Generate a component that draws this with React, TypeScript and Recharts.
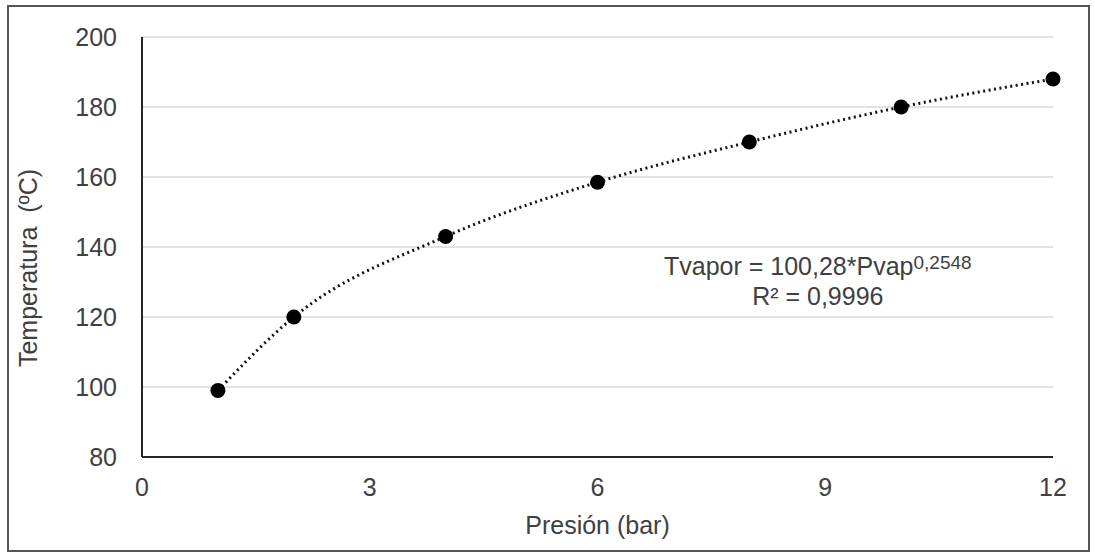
import React from 'react';
import {
  ComposedChart,
  Line,
  XAxis,
  YAxis,
  CartesianGrid,
} from 'recharts';

// Presión (bar) vs temperatura de vapor (ºC)
const presion = [1, 2, 4, 6, 8, 10, 12];
const temperatura = [99, 120, 143, 158.5, 170, 180, 188];
const xTicks = [0, 3, 6, 9, 12];
const yTicks = [80, 100, 120, 140, 160, 180, 200];

const chartData = presion.map((p, i) => ({ p, t: temperatura[i] }));

const FONT = '"Liberation Sans", Arial, sans-serif';
const TEXT = '#404040';

// rotated y axis title
const YTitle = () => (
  <text
    x={28}
    y={268}
    transform="rotate(-90 28 268)"
    textAnchor="middle"
    dominantBaseline="central"
    fill={TEXT}
    fontSize={25}
    fontFamily={FONT}
  >
    {'Temperatura\u00a0\u00a0(ºC)'}
  </text>
);

const App: React.FC = () => {
  return (
    <div style={{ position: 'absolute', left: 0, top: 0, width: 1095, height: 557, background: '#fff', fontFamily: FONT }}>
      <div style={{
        position: 'absolute', left: 7, top: 5, width: 1083, height: 547,
        border: '2px solid #555', boxSizing: 'border-box'
      }} />
      <div style={{ position: 'absolute', left: 0, top: 0 }}>
        <ComposedChart
          width={1095}
          height={557}
          data={chartData}
          margin={{ top: 37, right: 42, left: 0, bottom: 0 }}
        >
          <CartesianGrid vertical={false} stroke="#d9d9d9" strokeWidth={1.5} />
          <XAxis
            dataKey="p"
            type="number"
            domain={[0, 12]}
            ticks={xTicks}
            axisLine={{ stroke: '#262626', strokeWidth: 2 }}
            tickLine={false}
            tickSize={0}
            tickMargin={21}
            tick={{ fill: TEXT, fontSize: 25, fontFamily: FONT }}
            label={{ value: 'Presión (bar)', position: 'insideBottom', offset: 23, fill: TEXT, fontSize: 25, fontFamily: FONT }}
            height={100}
          />
          <YAxis
            type="number"
            domain={[80, 200]}
            ticks={yTicks}
            axisLine={{ stroke: '#262626', strokeWidth: 2 }}
            tickLine={false}
            tickSize={0}
            tickMargin={25}
            width={142}
            tick={{ fill: TEXT, fontSize: 25, fontFamily: FONT }}
            label={{ content: YTitle }}
          />
          <Line
            type="monotone"
            dataKey="t"
            stroke="#111"
            strokeWidth={3}
            strokeDasharray="2 3.5"
            dot={{ r: 7.5, fill: '#000', stroke: '#000', strokeWidth: 0 }}
            activeDot={false}
            isAnimationActive={false}
          />
        </ComposedChart>
      </div>
      <div style={{ position: 'absolute', left: 664, top: 251, color: TEXT, fontSize: 25, lineHeight: '30px', textAlign: 'center', whiteSpace: 'nowrap' }}>
        <div>Tvapor = 100,28*Pvap<sup style={{ fontSize: 19, verticalAlign: 'top', position: 'relative', top: -3 }}>0,2548</sup></div>
        <div>R² = 0,9996</div>
      </div>
    </div>
  );
};

export default App;
